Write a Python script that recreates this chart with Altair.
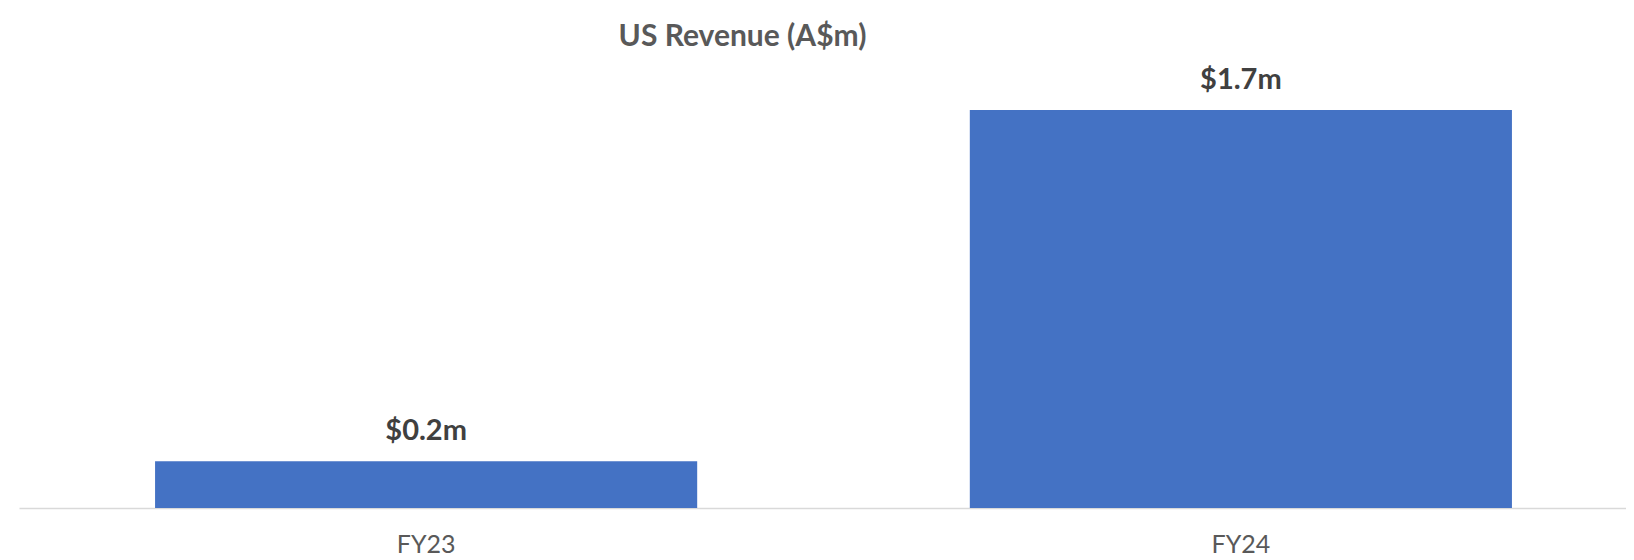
import altair as alt
import pandas as pd

categories = ["FY23", "FY24"]
revenue = [0.2, 1.7]
labels = ["$0.2m", "$1.7m"]

df = pd.DataFrame({"year": categories, "revenue": revenue, "label": labels})

FONT = "Lato"

base = alt.Chart(df).encode(
    x=alt.X(
        "year:N",
        sort=categories,
        title=None,
        scale=alt.Scale(range=[0, 1629], paddingInner=0.3346, paddingOuter=0.167),
        axis=alt.Axis(
            labelAngle=0,
            labelFont=FONT,
            labelFontSize=25,
            labelColor="#595959",
            labelBaseline="top",
            labelPadding=24,
            ticks=False,
            domainColor="#d9d9d9",
            domainWidth=1.5,
            grid=False,
        ),
    ),
    y=alt.Y(
        "revenue:Q",
        scale=alt.Scale(domain=[0, 1.914], nice=False, zero=True),
        axis=None,
    ),
)

bars = base.mark_bar(color="#4472C4")
text = base.mark_text(
    dy=-21,
    baseline="alphabetic",
    font=FONT,
    fontSize=29,
    fontWeight="bold",
    color="#404040",
).encode(text="label:N")

chart = (
    (bars + text)
    .properties(
        width=1607,
        height=448,
        autosize=alt.AutoSizeParams(type="none"),
        padding={"left": 11, "top": 52, "right": 0, "bottom": 52},
        title=alt.TitleParams(
            "US Revenue (A$m)",
            font=FONT,
            fontSize=30,
            fontWeight="bold",
            color="#595959",
            anchor="middle",
            frame="group",
            dx=-80,
            dy=26,
            baseline="alphabetic",
            offset=10,
        ),
    )
    .configure_view(stroke=None)
)

chart.save("out.html", embed_options={"renderer": "svg", "actions": False})
